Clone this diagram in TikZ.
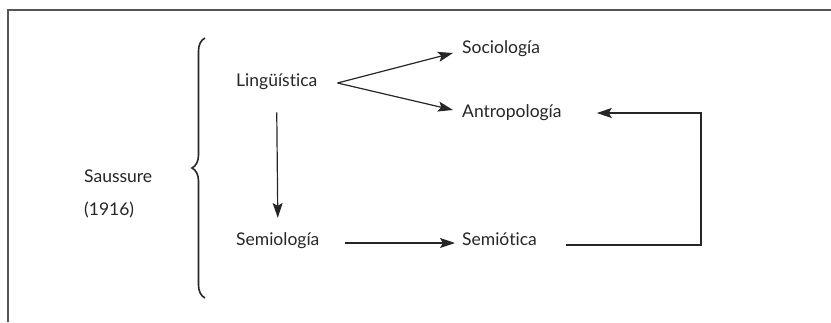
\documentclass[tikz,border=0pt]{standalone}
\usepackage{fontspec}
\setmainfont{Lato}[Ligatures=NoCommon]
\usetikzlibrary{arrows.meta, positioning, decorations.pathreplacing}

\definecolor{inkgray}{HTML}{262626}
\definecolor{framegray}{HTML}{555555}

\tikzset{
  term/.style={inner sep=0pt, anchor=base west, text=inkgray},
  arr/.style={line width=1.2pt, draw=inkgray, -{Stealth[length=15pt, width=10pt, inset=3pt]}},
  plain/.style={line width=1.2pt, draw=inkgray}
}

\begin{document}
\begin{tikzpicture}[x=1pt, y=-1pt, font=\fontsize{17.5}{20}\selectfont]
      \useasboundingbox (0,0) rectangle (831,322);

      % Frame (top and left edge only)
      \draw[framegray, line width=1.1pt] (8,322) -- (8,10) -- (831,10);

      % Terms
      \node[term] (sau)  at (84,182)  {Saussure};
      \node[term] (year) at (84,215)  {(1916)};
      \node[term] (ling) at (236,86)  {Lingüística};
      \node[term] (soc)  at (462,53)  {Sociología};
      \node[term] (antr) at (462,117) {Antropología};
      \node[term] (sem)  at (236,245) {Semiología};
      \node[term] (semt) at (462,245) {Semiótica};

      % Brace
      \draw[inkgray, line width=1.6pt, decorate, decoration={brace, amplitude=13pt}]
            (205,298) -- (205,38);

      % Arrows
      \draw[arr] ([xshift=20pt, yshift=3pt]ling.base east) -- ([xshift=-9pt]soc.base west);
      \draw[arr] ([xshift=20pt, yshift=3pt]ling.base east) -- ([xshift=-9pt, yshift=7pt]antr.base west);
      \draw[arr] ([yshift=-23pt]ling.south) -- ([yshift=14pt]sem.north);
      \draw[arr] ([xshift=25pt, yshift=2pt]sem.base east) -- ([xshift=-7pt, yshift=2pt]semt.base west);

      % Return line to Antropologia
      \coordinate (turn) at (701,113);
      \draw[arr] ([xshift=29pt]semt.base east) -| (turn) -- ([xshift=35pt, yshift=4pt]antr.base east);
\end{tikzpicture}
\end{document}
